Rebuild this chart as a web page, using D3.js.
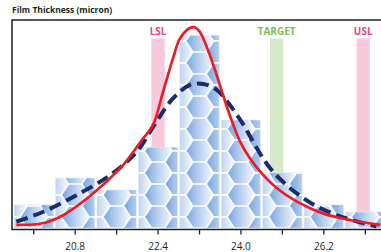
<!DOCTYPE html>
<html>
<head>
<meta charset="utf-8">
<script src="https://cdn.jsdelivr.net/npm/d3@7"></script>
<style>
  html, body { margin: 0; padding: 0; background: #fff; }
  #chart { width: 381px; height: 252px; overflow: hidden; }
  text { font-family: 'Open Sans', 'Liberation Sans', sans-serif; }
</style>
</head>
<body>
<div id="chart"></div>
<script>
// bins (tick positions), only every other one carries a label
const tickLabels = ['', '20.8', '', '22.4', '', '24.0', '', '26.2', ''];
const counts = [2.9, 6.25, 4.75, 10.1, 24.1, 13.5, 6.9, 2.9, 2.0];

// spec limits, x in bin units
const specNames = ['LSL', 'TARGET', 'USL'];
const specPos = [3.0, 5.86, 7.95];

// fitted curves: [bin position, count]
const fitCurve = [
  [-0.42, 0.4], [0.22, 0.6], [0.71, 1.6], [1.19, 3.3], [1.67, 5.4], [2.16, 7.9],
  [2.64, 11.2], [2.88, 12.9], [3.12, 17.0], [3.36, 21.2], [3.53, 23.7], [3.77, 25.0],
  [3.88, 25.1], [4.01, 24.5], [4.25, 21.6], [4.49, 17.9], [4.73, 14.1], [4.98, 10.8],
  [5.22, 8.7], [5.54, 6.6], [5.86, 5.0], [6.35, 3.3], [6.99, 1.8], [7.63, 1.0], [8.36, 0.4]
];
const normalCurve = [
  [-0.42, 0.8], [0.22, 2.0], [1.03, 4.1], [1.84, 6.6], [2.48, 9.5], [2.96, 13.3],
  [3.36, 16.2], [3.77, 17.9], [4.09, 18.0], [4.41, 17.3], [4.73, 15.4], [5.06, 12.9],
  [5.38, 10.0], [5.70, 7.5], [6.18, 5.0], [6.83, 2.7], [7.55, 1.2], [8.27, 0.2]
];

const W = 381, H = 252;
const marginLeft = 12, marginTop = 20, baseY = 228;

const svg = d3.select('#chart').append('svg')
  .attr('width', W)
  .attr('height', H);

const defs = svg.append('defs');

const x = d3.scaleBand()
  .domain(d3.range(counts.length))
  .range([13, 386])
  .paddingInner(0.05)
  .paddingOuter(0.025);

const xPos = d3.scaleLinear()
  .domain([0, counts.length - 1])
  .range([x(0) + x.bandwidth() / 2, x(counts.length - 1) + x.bandwidth() / 2]);

const y = d3.scaleLinear()
  .domain([0, 26])
  .range([baseY, marginTop]);

// hex gradient + honeycomb pattern for the bars
const grad = defs.append('linearGradient')
  .attr('id', 'hexGrad')
  .attr('x1', 0).attr('x2', 1).attr('y1', 0).attr('y2', 0);
grad.append('stop').attr('offset', 0).attr('stop-color', '#72a2dc');
grad.append('stop').attr('offset', 0.45).attr('stop-color', '#b3cdee');
grad.append('stop').attr('offset', 1).attr('stop-color', '#f6f9fe');

// one tile per bar step: a centred hex plus the halves of its neighbours
const tileW = x.step(), tileH = 22;
const hexA = 14, hexB = tileW / 2 - hexA;   // half width, half top edge
const pattern = defs.append('pattern')
  .attr('id', 'hexPattern')
  .attr('patternUnits', 'userSpaceOnUse')
  .attr('x', xPos(0) - tileW / 2)
  .attr('y', baseY)
  .attr('width', tileW)
  .attr('height', tileH);

pattern.append('rect')
  .attr('width', tileW).attr('height', tileH)
  .attr('fill', '#ffffff');

const hexCenters = [[tileW / 2, tileH / 2], [0, 0], [tileW, 0], [0, tileH], [tileW, tileH]];
const hexPoints = ([cx, cy]) => [
  [cx - hexA, cy], [cx - hexB, cy - tileH / 2], [cx + hexB, cy - tileH / 2],
  [cx + hexA, cy], [cx + hexB, cy + tileH / 2], [cx - hexB, cy + tileH / 2]
].map(p => p.join(',')).join(' ');

pattern.selectAll('polygon')
  .data(hexCenters)
  .join('polygon')
  .attr('points', hexPoints)
  .attr('fill', 'url(#hexGrad)')
  .attr('stroke', '#ffffff')
  .attr('stroke-width', 1.4);

// spec limit bands (behind the bars)
const specFill = { LSL: '#f8c8dc', TARGET: '#d8e9c9', USL: '#f8c8dc' };
const specText = { LSL: '#e8408d', TARGET: '#7cbd4f', USL: '#e8408d' };
const bandW = 13.3;

svg.append('g')
  .selectAll('rect')
  .data(specNames)
  .join('rect')
  .attr('x', (d, i) => xPos(specPos[i]) - bandW / 2)
  .attr('y', y(23.7))
  .attr('width', bandW)
  .attr('height', y(0) - y(23.7))
  .attr('fill', d => specFill[d]);

svg.append('g')
  .selectAll('text')
  .data(specNames)
  .join('text')
  .attr('x', (d, i) => xPos(specPos[i]))
  .attr('y', 35)
  .attr('text-anchor', 'middle')
  .style('font-size', '10px')
  .style('font-weight', 700)
  .attr('fill', d => specText[d])
  .text(d => d);

// histogram bars
svg.append('g')
  .selectAll('rect')
  .data(counts)
  .join('rect')
  .attr('x', (d, i) => x(i))
  .attr('y', d => y(d))
  .attr('width', x.bandwidth())
  .attr('height', d => y(0) - y(d))
  .attr('fill', 'url(#hexPattern)')
  .attr('stroke', '#e4ecf8')
  .attr('stroke-width', 0.6);

// curves
const line = d3.line()
  .x(d => xPos(d[0]))
  .y(d => y(d[1]))
  .curve(d3.curveCatmullRom.alpha(0.5));

svg.append('path')
  .datum(normalCurve)
  .attr('d', line)
  .attr('fill', 'none')
  .attr('stroke', '#1b2c6b')
  .attr('stroke-width', 4)
  .attr('stroke-dasharray', '12,6');

svg.append('path')
  .datum(fitCurve)
  .attr('d', line)
  .attr('fill', 'none')
  .attr('stroke', '#ec1c24')
  .attr('stroke-width', 2.7);

// frame: left, top and bottom lines
svg.append('path')
  .attr('d', `M${W + 5},${marginTop}H${marginLeft}V229.5H${W + 5}`)
  .attr('fill', 'none')
  .attr('stroke', '#231f20')
  .attr('stroke-width', 1.5);

// x axis ticks and labels
const xAxis = svg.append('g')
  .attr('transform', 'translate(0,229.5)')
  .call(d3.axisBottom(x).tickSize(5).tickSizeOuter(0).tickFormat(i => tickLabels[i]));

xAxis.select('.domain').remove();
xAxis.selectAll('.tick line')
  .attr('stroke', '#231f20')
  .attr('stroke-width', 1.3);
xAxis.selectAll('.tick text')
  .attr('y', 20.5)
  .attr('dy', 0)
  .attr('fill', '#231f20')
  .style('font-size', '10px')
  .style('font-family', "'Open Sans', sans-serif");

// title
svg.append('text')
  .attr('x', marginLeft)
  .attr('y', 13.3)
  .style('font-size', '8.5px')
  .style('font-weight', 700)
  .attr('fill', '#231f20')
  .text('Film Thickness (micron)');
</script>
</body>
</html>
